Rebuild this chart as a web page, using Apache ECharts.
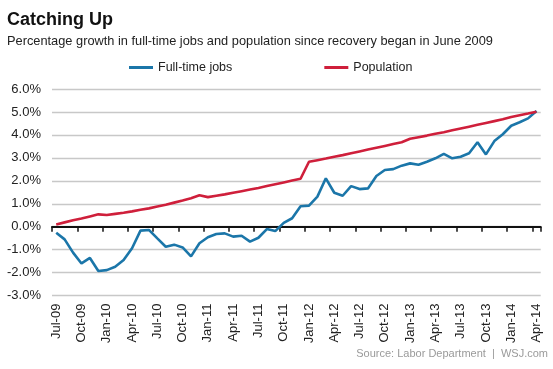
<!DOCTYPE html>
<html>
<head>
<meta charset="utf-8">
<script src="https://cdn.jsdelivr.net/npm/echarts@6/dist/echarts.min.js"></script>
<style>
html,body{margin:0;padding:0;background:#fff;}
#chart{width:553px;height:369px;}
</style>
</head>
<body>
<div id="chart"></div>
<script>
const months = ['Jul-09','Aug-09','Sep-09','Oct-09','Nov-09','Dec-09',
  'Jan-10','Feb-10','Mar-10','Apr-10','May-10','Jun-10','Jul-10','Aug-10','Sep-10','Oct-10','Nov-10','Dec-10',
  'Jan-11','Feb-11','Mar-11','Apr-11','May-11','Jun-11','Jul-11','Aug-11','Sep-11','Oct-11','Nov-11','Dec-11',
  'Jan-12','Feb-12','Mar-12','Apr-12','May-12','Jun-12','Jul-12','Aug-12','Sep-12','Oct-12','Nov-12','Dec-12',
  'Jan-13','Feb-13','Mar-13','Apr-13','May-13','Jun-13','Jul-13','Aug-13','Sep-13','Oct-13','Nov-13','Dec-13',
  'Jan-14','Feb-14','Mar-14','Apr-14'];

const fullTimeJobs = [-0.26,-0.55,-1.13,-1.60,-1.36,-1.93,
  -1.89,-1.74,-1.45,-0.94,-0.17,-0.14,-0.51,-0.87,-0.78,-0.90,-1.29,-0.72,
  -0.46,-0.32,-0.29,-0.43,-0.39,-0.65,-0.48,-0.10,-0.19,0.17,0.37,0.89,
  0.92,1.31,2.11,1.48,1.35,1.77,1.64,1.67,2.21,2.47,2.51,2.66,
  2.76,2.70,2.83,2.98,3.17,2.98,3.05,3.20,3.68,3.15,3.73,4.03,
  4.40,4.55,4.72,5.04];

const population = [0.10,0.19,0.28,0.36,0.45,0.54,
  0.51,0.56,0.61,0.67,0.74,0.80,0.88,0.96,1.05,1.14,1.24,1.37,
  1.29,1.35,1.41,1.48,1.55,1.62,1.69,1.77,1.85,1.93,2.01,2.09,
  2.83,2.90,2.97,3.05,3.12,3.20,3.28,3.36,3.44,3.52,3.60,3.68,
  3.83,3.90,3.97,4.05,4.12,4.20,4.28,4.36,4.44,4.52,4.60,4.68,
  4.78,4.86,4.93,5.01];

const seriesNames = ['Full-time jobs','Population'];
const yMin = -3, yMax = 6, yStep = 1;

const FONT = '"Liberation Sans", Arial, Helvetica, sans-serif';
const BLUE = '#1b76a9', RED = '#cf1f3b';

const chart = echarts.init(document.getElementById('chart'), null, {renderer:'canvas'});
chart.setOption({
  animation: false,
  backgroundColor: '#fff',
  textStyle: {fontFamily: FONT},
  title: [
    {text: 'Catching Up', left: 7, top: 11, padding: 0,
     textStyle: {fontFamily: FONT, fontSize: 18, fontWeight: 'bold', color: '#111'}},
    {text: 'Percentage growth in full-time jobs and population since recovery began in June 2009',
     left: 7, top: 34.5, padding: 0, textStyle: {fontFamily: FONT, fontSize: 12.8, fontWeight: 'normal', color: '#222'}},
    {text: 'Source: Labor Department  |  WSJ.com', right: 5, top: 348, padding: 0,
     textStyle: {fontFamily: FONT, fontSize: 11, fontWeight: 'normal', color: '#9a9a9a'}}
  ],
  legend: {
    left: 129, top: 61, padding: 0, itemWidth: 24, itemHeight: 3, itemGap: 92, icon: 'rect',
    data: seriesNames,
    textStyle: {fontFamily: FONT, fontSize: 12.5, color: '#222'}
  },
  grid: {left: 52, right: 12.3, top: 89, bottom: 73.4, containLabel: false},
  xAxis: [
    {type: 'category', data: months, boundaryGap: true,
     axisLine: {onZero: true, lineStyle: {color: '#111', width: 2}},
     axisTick: {show: true, interval: 2, length: 5, inside: false, alignWithLabel: false, lineStyle: {color: '#111', width: 1.5}},
     axisLabel: {show: false}, splitLine: {show: false}},
    {type: 'category', data: months, boundaryGap: true, position: 'bottom',
     axisLine: {show: false, onZero: false}, axisTick: {show: false},
     axisLabel: {show: true, interval: 2, rotate: 90, margin: 8, fontFamily: FONT, fontSize: 13, color: '#222'},
     splitLine: {show: false}}
  ],
  yAxis: {
    type: 'value', min: yMin, max: yMax, interval: yStep,
    axisLine: {show: false}, axisTick: {show: false},
    axisLabel: {margin: 11, fontFamily: FONT, fontSize: 13, color: '#222',
      formatter: v => v.toFixed(1) + '%'},
    splitLine: {lineStyle: {color: '#c8c8c8', width: 1.3}}
  },
  series: [
    {name: seriesNames[0], type: 'line', xAxisIndex: 0, data: fullTimeJobs, symbol: 'none',
     lineStyle: {color: BLUE, width: 2.6}, itemStyle: {color: BLUE}},
    {name: seriesNames[1], type: 'line', xAxisIndex: 0, data: population, symbol: 'none',
     lineStyle: {color: RED, width: 2.6}, itemStyle: {color: RED}}
  ]
});
</script>
</body>
</html>
